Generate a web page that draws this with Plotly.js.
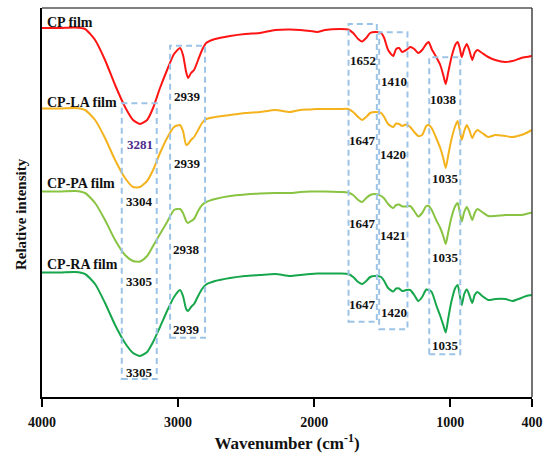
<!DOCTYPE html>
<html>
<head>
<meta charset="utf-8">
<script src="https://cdn.plot.ly/plotly-3.0.1.min.js"></script>
<style>html,body{margin:0;padding:0;background:#fff;}#chart{width:550px;height:458px;}</style>
</head>
<body>
<div id="chart"></div>
<script>
// Wavenumber grid (cm-1)
const wavenumber = [4000,3868,3757,3684,3610,3537,3463,3390,3331,3280,
  3228,3184,3133,3081,3030,2986,2964,2941,2927,2905,
  2883,2853,2824,2794,2728,2618,2508,2398,2287,2177,
  2103,2030,1978,1920,1809,1751,1714,1677,1648,1618,
  1589,1552,1508,1486,1457,1420,1398,1376,1354,1324,
  1295,1265,1236,1207,1177,1159,1137,1104,1074,1052,
  1034,1015,993,964,946,931,916,898,879,861,
  839,821,802,766,722,670,596,545,479,442,
  400];

// Relative intensity (arbitrary units, curves stacked)
const cpFilm = [369,369,369.5,368,357,337,312,290,277,273,
  277,289,309,327,343,349,342,325,319,324,
  327,337,347,354,358,361,363,364,367,367.5,
  367,366,365,367,368,367.5,364,358,355.5,359,
  364,365,364,359,347,341,348,349,345,347,
  350,348,344,347,353,355,348,340,332,322,
  313,325,339,352,355,349,340,348,353,347,
  337,344,347,344,340,337,335,336,339,340,
  341];
const cpLaFilm = [288.5,288.5,289,287,277,259,237,219,210,210,
  216,227,244,259,270,272,266,252,253,257,
  260,267,274,278,280,282,284,285,287,285,
  287,287.5,288,288,288,288,285,280,277,280,
  284,285,284,280,273,270,273.5,273,271,272.5,
  270,265,261,262,271,272,269,259,249,239,
  229,242,257,271,276,267,257,266,272,267,
  259,264,267,264,260,262,261,260,262,264,
  267];
const cpPaFilm = [205.5,205.5,206,204,194,177,157,142,136,135.5,
  141,151,163,175,187,188,184,176,174,176,
  178,186,192,195,198,201,202.5,203.5,204,204,
  205,205.5,205.5,205.5,205,204.5,202,197,195,199,
  202,203,201,198.5,193,189,192,192.5,190.5,190.5,
  191,186,180.5,184,191,191,187,177,169,161,
  153,165,179,191,194,185,175.5,185,190,185,
  177,184,188,185,181,181,182,182,182,183,
  184.5];
const cpRaFilm = [124.5,124.5,125,123,113,94,72,54,44,41,
  45,55,70,86,100,107,101,88,86,90,
  93,101,108,112.5,116,119,121,122,123,121,
  122,123,123.5,123.5,123.5,123,120,115,113,116,
  120,121,120,116,109,105.5,108.5,108.5,106,107,
  107,102,96,100,107.5,107,105,92,81,72,
  64.5,79,95,109,112,102,92,103,107.5,102,
  94,102,105,101,97,98,98,96,99,101,
  102];

const seriesNames = ["CP film","CP-LA film","CP-PA film","CP-RA film"];
const seriesColors = ["#ff1414","#f4b21c","#88c341","#16a64b"];
const seriesValues = [cpFilm, cpLaFilm, cpPaFilm, cpRaFilm];

const xTickVals = [4000,3000,2000,1000,400];
const xTickText = ["4000","3000","2000","1000","400"];

// Peak labels: [text, wavenumber, intensity, color]
const peakLabels = [
  ["3281",3280,253,"#4b2a8c"],
  ["3304",3287,196,"#111"],
  ["3305",3287,116,"#111"],
  ["3305",3287,25,"#111"],
  ["2939",2929,301,"#111"],
  ["2939",2934,234,"#111"],
  ["2938",2941,148,"#111"],
  ["2939",2936,68,"#111"],
  ["1652",1645,337,"#111"],
  ["1647",1645,257,"#111"],
  ["1647",1645,174,"#111"],
  ["1647",1645,93,"#111"],
  ["1410",1412,316,"#111"],
  ["1420",1418,243,"#111"],
  ["1421",1418,162,"#111"],
  ["1420",1412,85,"#111"],
  ["1038",1050,298,"#111"],
  ["1035",1032,219,"#111"],
  ["1035",1038,140,"#111"],
  ["1035",1032,52,"#111"]
];

// Highlight boxes: [wavenumber from, wavenumber to, intensity bottom, intensity top]
const bandBoxes = [
  [3414,3157,18,293.7],
  [3059,2802,59.3,351.3],
  [1748,1540,75.3,373],
  [1523,1315,67.7,364.7],
  [1155,927,42.7,339.7]
];

// Series name labels: intensity level of each name
const nameLabelY = [375,295,214,133];

const traces = seriesValues.map((vals,i)=>({
  x: wavenumber, y: vals, type:"scatter", mode:"lines", name: seriesNames[i],
  line:{color: seriesColors[i], width:2, shape:"spline", smoothing:0.6},
  hoverinfo:"skip"
}));

const FONT = "Liberation Serif, Times New Roman, serif";

const shapes = bandBoxes.map(b=>({
  type:"rect", xref:"x", yref:"y", x0:b[0], x1:b[1], y0:b[2], y1:b[3],
  line:{color:"#9dc3e6", width:2, dash:"6px,4px"}, fillcolor:"rgba(0,0,0,0)", layer:"above"
}));
shapes.push({type:"line", xref:"paper", yref:"paper", x0:0, x1:1, y0:1, y1:1, line:{color:"#555", width:1.5}});
shapes.push({type:"line", xref:"paper", yref:"paper", x0:1, x1:1, y0:0, y1:1, line:{color:"#444", width:1.5}});

const annotations = peakLabels.map(p=>({
  text:p[0], x:p[1], y:p[2], xref:"x", yref:"y", showarrow:false,
  font:{family:FONT, size:13, color:p[3], weight:"bold"}
}));
seriesNames.forEach((n,i)=>{
  annotations.push({text:n, x:3978, y:nameLabelY[i], xref:"x", yref:"y", xanchor:"left", showarrow:false,
    font:{family:FONT, size:14, color:"#111", weight:"bold"}});
});
// y-axis title
annotations.push({text:"Relative intensity", xref:"paper", yref:"paper", x:-0.043, y:0.47,
  textangle:-90, showarrow:false, xanchor:"center", yanchor:"middle",
  font:{family:FONT, size:15, color:"#111", weight:"bold"}});

const layout = {
  width:550, height:458,
  margin:{l:42, r:18, t:8, b:61},
  paper_bgcolor:"#fff", plot_bgcolor:"#fff",
  showlegend:false,
  xaxis:{
    range:[4000,400], autorange:false,
    tickvals:xTickVals, ticktext:xTickText,
    ticks:"outside", ticklen:8, tickwidth:2, tickcolor:"#000",
    ticklabelstandoff:3,
    showline:true, linecolor:"#000", linewidth:2,
    showgrid:false, zeroline:false,
    tickfont:{family:FONT, size:14, color:"#111", weight:"bold"},
    title:{text:"Wavenumber (cm<sup>-1</sup>)", font:{family:FONT, size:17, color:"#111", weight:"bold"}, standoff:8}
  },
  yaxis:{
    range:[0,389], autorange:false,
    showticklabels:false, ticks:"",
    showline:true, linecolor:"#000", linewidth:2,
    showgrid:false, zeroline:false
  },
  shapes:shapes,
  annotations:annotations
};

Plotly.newPlot("chart", traces, layout, {staticPlot:true, displayModeBar:false});
</script>
</body>
</html>
